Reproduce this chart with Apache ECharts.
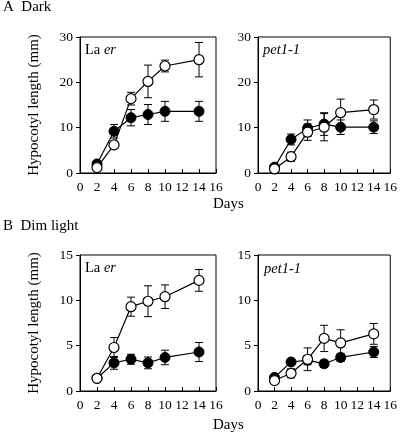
<!DOCTYPE html>
<html><head><meta charset="utf-8">
<script src="https://cdn.jsdelivr.net/npm/echarts@6/dist/echarts.min.js"></script>
<style>html,body{margin:0;padding:0;background:#fff}#c{width:400px;height:438px}</style>
</head><body><div id="c"></div>
<script>
const days = [2, 4, 6, 8, 10, 14];
const xTicks = [0, 2, 4, 6, 8, 10, 12, 14, 16];
// Panel A: Dark
const darkLaerFilled = [2.0, 9.2, 12.2, 12.9, 13.6, 13.6];
const darkLaerFilledErr = [0.3, 1.5, 1.8, 2.2, 2.2, 2.2];
const darkLaerOpen = [1.2, 6.2, 16.4, 20.2, 23.6, 25.0];
const darkLaerOpenErr = [0.3, 0.8, 1.4, 3.6, 1.3, 3.8];
const darkPetFilled = [1.3, 7.4, 9.9, 10.8, 10.1, 10.1];
const darkPetFilledErr = [0.3, 1.2, 1.8, 2.5, 1.6, 1.4];
const darkPetOpen = [0.9, 3.6, 9.0, 10.1, 13.3, 14.0];
const darkPetOpenErr = [0.3, 1.0, 1.8, 3.0, 3.0, 2.1];
// Panel B: Dim light
const dimLaerFilled = [1.4, 3.1, 3.5, 3.1, 3.7, 4.3];
const dimLaerFilledErr = [0.1, 0.7, 0.55, 0.65, 0.8, 1.05];
const dimLaerOpen = [1.4, 4.8, 9.3, 9.9, 10.4, 12.2];
const dimLaerOpenErr = [0.1, 1.1, 1.05, 1.7, 1.3, 1.2];
const dimPetFilled = [1.5, 3.2, 3.4, 3.0, 3.7, 4.3];
const dimPetFilledErr = [0.1, 0.3, 0.5, 0.4, 0.45, 0.6];
const dimPetOpen = [1.15, 1.95, 3.5, 5.8, 5.3, 6.3];
const dimPetOpenErr = [0.2, 0.5, 1.25, 1.45, 1.45, 1.15];

const FONT = '"Liberation Serif", "DejaVu Serif", serif';
const chart = echarts.init(document.getElementById('c'), null, {renderer: 'canvas'});

const grids = [
  {left: 80, top: 37, width: 136, height: 136},
  {left: 258, top: 37, width: 135, height: 136},
  {left: 80, top: 255, width: 136, height: 136},
  {left: 258, top: 255, width: 135, height: 136}
];
const yMax = [30, 30, 15, 15];
const yInt = [10, 10, 5, 5];

function errRender(params, api) {
  const x = api.value(0), lo = api.value(1), hi = api.value(2);
  const a = api.coord([x, lo]), b = api.coord([x, hi]);
  const w = 4;
  const st = {stroke: '#000', lineWidth: 1};
  return {type: 'group', children: [
    {type: 'line', shape: {x1: a[0], y1: a[1], x2: b[0], y2: b[1]}, style: st},
    {type: 'line', shape: {x1: a[0] - w, y1: a[1], x2: a[0] + w, y2: a[1]}, style: st},
    {type: 'line', shape: {x1: b[0] - w, y1: b[1], x2: b[0] + w, y2: b[1]}, style: st}
  ]};
}
function errData(v, e) { return days.map((d, i) => [d, v[i] - e[i], v[i] + e[i]]); }
function lineData(v) { return days.map((d, i) => [d, v[i]]); }

const panels = [
  [darkLaerFilled, darkLaerFilledErr, darkLaerOpen, darkLaerOpenErr],
  [darkPetFilled, darkPetFilledErr, darkPetOpen, darkPetOpenErr],
  [dimLaerFilled, dimLaerFilledErr, dimLaerOpen, dimLaerOpenErr],
  [dimPetFilled, dimPetFilledErr, dimPetOpen, dimPetOpenErr]
];

const series = [];
panels.forEach((p, k) => {
  series.push({type: 'custom', xAxisIndex: k, yAxisIndex: k, renderItem: errRender, data: errData(p[0], p[1]), z: 2, silent: true});
  series.push({type: 'custom', xAxisIndex: k, yAxisIndex: k, renderItem: errRender, data: errData(p[2], p[3]), z: 2, silent: true});
  series.push({type: 'line', xAxisIndex: k, yAxisIndex: k, data: lineData(p[0]), symbol: 'circle', symbolSize: 10,
    lineStyle: {color: '#000', width: 1.2}, itemStyle: {color: '#000', borderColor: '#000', borderWidth: 1}, z: 3, animation: false});
  series.push({type: 'line', xAxisIndex: k, yAxisIndex: k, data: lineData(p[2]), symbol: 'circle', symbolSize: 10,
    lineStyle: {color: '#000', width: 1.2}, itemStyle: {color: '#fff', borderColor: '#000', borderWidth: 1.2}, z: 4, animation: false});
});

const labelStyle = {color: '#000', fontFamily: FONT, fontSize: 13.5};
const option = {
  animation: false,
  grid: grids.map(g => Object.assign({show: true, borderColor: '#000', borderWidth: 1, backgroundColor: 'transparent'}, g)),
  xAxis: grids.map((g, k) => ({
    gridIndex: k, type: 'value', min: 0, max: 16, interval: 2,
    axisLine: {lineStyle: {color: '#000', width: 1}},
    axisTick: {inside: true, length: 4, lineStyle: {color: '#000'}},
    axisLabel: Object.assign({margin: 7}, labelStyle),
    splitLine: {show: false}
  })),
  yAxis: grids.map((g, k) => ({
    gridIndex: k, type: 'value', min: 0, max: yMax[k], interval: yInt[k],
    axisLine: {show: true, lineStyle: {color: '#000', width: 1}},
    axisTick: {show: true, inside: false, length: 4, lineStyle: {color: '#000'}},
    axisLabel: Object.assign({margin: 7}, labelStyle),
    splitLine: {show: false},
    name: (k % 2 === 0) ? 'Hypocotyl length (mm)' : '',
    nameLocation: 'middle', nameGap: 38,
    nameTextStyle: {color: '#000', fontFamily: FONT, fontSize: 15}
  })),
  graphic: [
    {type: 'text', left: 3, top: 0, style: {text: 'A  Dark', font: '15px ' + FONT, fill: '#000'}},
    {type: 'text', left: 3, top: 219, style: {text: 'B  Dim light', font: '15px ' + FONT, fill: '#000'}},
    {type: 'text', left: 213, top: 197, style: {text: 'Days', font: '15px ' + FONT, fill: '#000'}},
    {type: 'text', left: 213, top: 418, style: {text: 'Days', font: '15px ' + FONT, fill: '#000'}},
    {type: 'text', left: 85, top: 43, style: {text: '{n|La }{i|er}', rich: {n: {font: '14.5px ' + FONT, fill: '#000'}, i: {font: 'italic 14.5px ' + FONT, fill: '#000'}}}},
    {type: 'text', left: 263, top: 43, style: {text: 'pet1-1', font: 'italic 14.5px ' + FONT, fill: '#000'}},
    {type: 'text', left: 85, top: 261, style: {text: '{n|La }{i|er}', rich: {n: {font: '14.5px ' + FONT, fill: '#000'}, i: {font: 'italic 14.5px ' + FONT, fill: '#000'}}}},
    {type: 'text', left: 264, top: 262, style: {text: 'pet1-1', font: 'italic 14.5px ' + FONT, fill: '#000'}}
  ],
  series: series
};
chart.setOption(option);
</script>
</body></html>
